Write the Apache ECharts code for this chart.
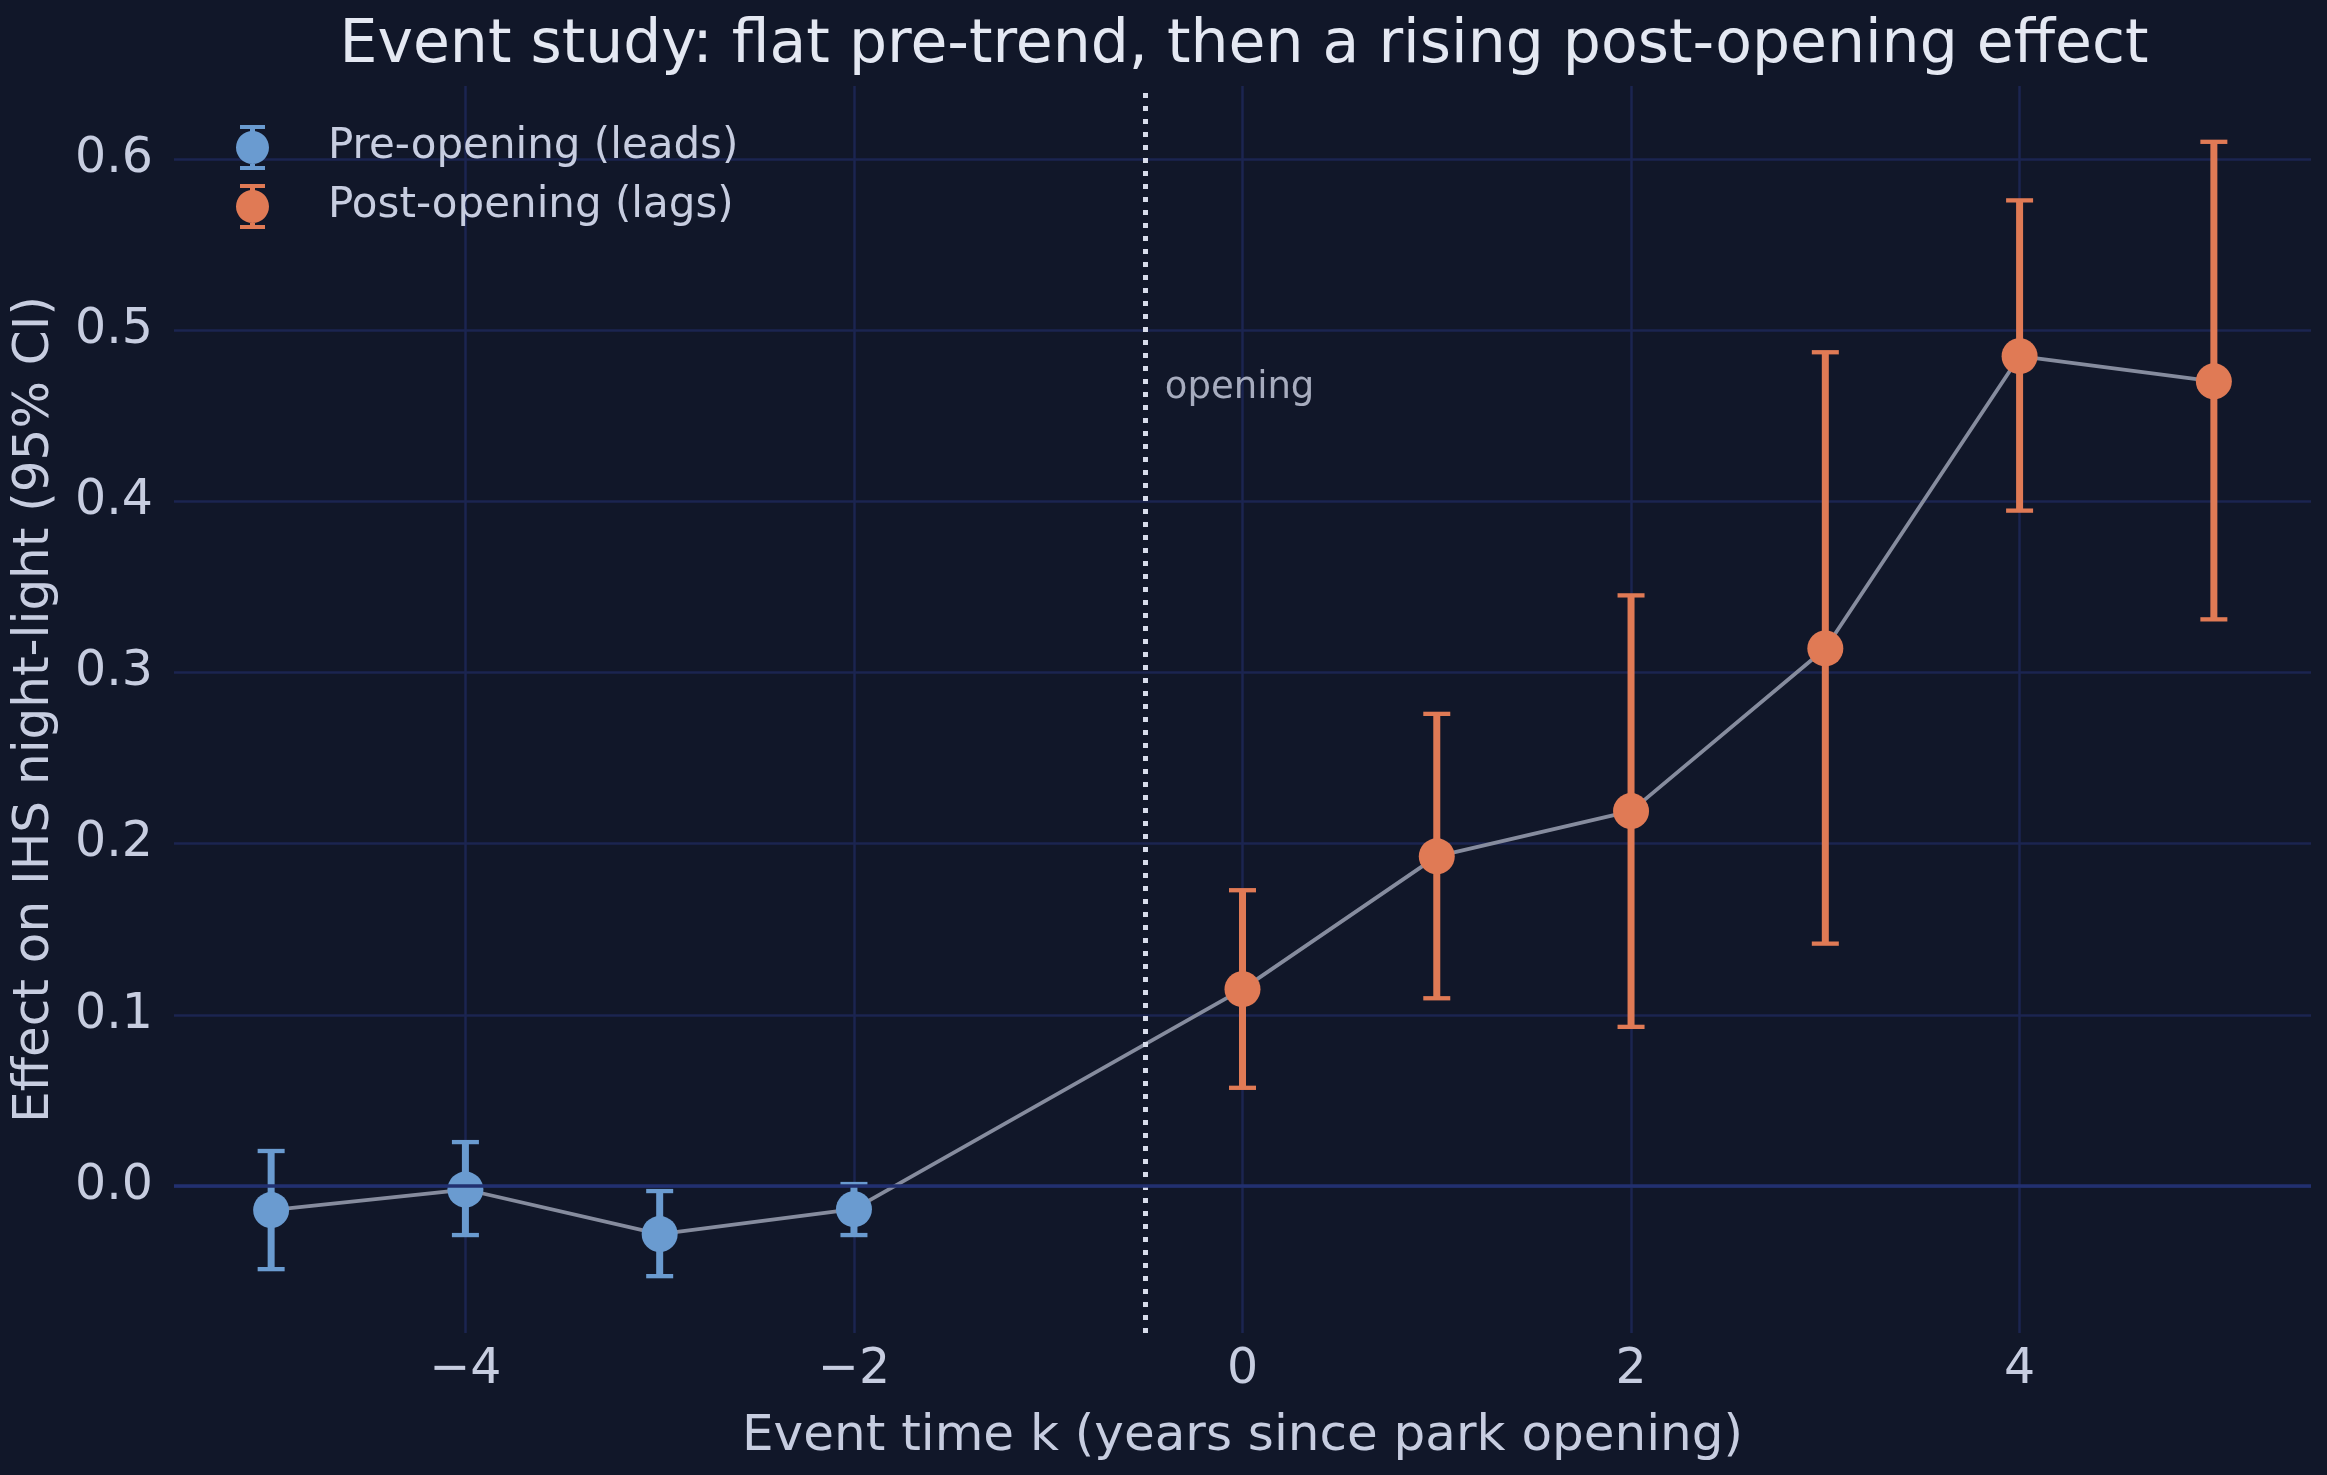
<!DOCTYPE html>
<html>
<head>
<meta charset="utf-8">
<script src="https://cdn.jsdelivr.net/npm/echarts@6/dist/echarts.min.js"></script>
<style>
html,body{margin:0;padding:0;background:#111729;}
#chart{width:2327px;height:1475px;}
</style>
</head>
<body>
<div id="chart"></div>
<script>
// ---- data ----
const preK  = [-5, -4, -3, -2];
const preEst = [-0.014, -0.002, -0.028, -0.0135];
const preLo  = [-0.0485, -0.0286, -0.0526, -0.0286];
const preHi  = [0.0205, 0.0257, -0.0029, 0.0012];

const postK  = [0, 1, 2, 3, 4, 5];
const postEst = [0.115, 0.1926, 0.219, 0.314, 0.4847, 0.470];
const postLo  = [0.0574, 0.1097, 0.093, 0.1416, 0.3945, 0.331];
const postHi  = [0.1728, 0.2758, 0.345, 0.487, 0.5757, 0.6099];

const xTicks = [-4, -2, 0, 2, 4];
const yTicks = [0.0, 0.1, 0.2, 0.3, 0.4, 0.5, 0.6];

const openingX = -0.5;
const seriesNames = ['Pre-opening (leads)', 'Post-opening (lags)'];
const titleText = 'Event study: flat pre-trend, then a rising post-opening effect';
const xName = 'Event time k (years since park opening)';
const yName = 'Effect on IHS night-light (95% CI)';
const annText = 'opening';
const annPos = [-0.40, 0.466];

// ---- style ----
const BLUE = '#6a9bd0', ORANGE = '#e07a55', BG = '#111729';
const TXT = '#c7cde0', GRID = '#1b2550';
const FONT = 'DejaVu Sans';

const allPts = preK.map((k,i)=>[k, preEst[i]]).concat(postK.map((k,i)=>[k, postEst[i]]));
const preBars = preK.map((k,i)=>[k, preLo[i], preHi[i]]);
const postBars = postK.map((k,i)=>[k, postLo[i], postHi[i]]);

function errRender(color){
  return function(params, api){
    const x = api.value(0);
    const lo = api.coord([x, api.value(1)]);
    const hi = api.coord([x, api.value(2)]);
    const cw = 13.5;
    const st = {stroke: color, lineWidth: 7};
    const cst = {stroke: color, lineWidth: 4.3};
    return {type:'group', children:[
      {type:'line', shape:{x1:lo[0], y1:lo[1], x2:hi[0], y2:hi[1]}, style:st},
      {type:'line', shape:{x1:lo[0]-cw, y1:lo[1], x2:lo[0]+cw, y2:lo[1]}, style:cst},
      {type:'line', shape:{x1:hi[0]-cw, y1:hi[1], x2:hi[0]+cw, y2:hi[1]}, style:cst}
    ]};
  };
}

const iconPath = 'path://M4,0H29V4H19V41H29V45H4V41H14V4H4Z M0,22.5A16.5,16.5 0 1,1 33,22.5A16.5,16.5 0 1,1 0,22.5Z';

const chart = echarts.init(document.getElementById('chart'), null, {renderer:'canvas'});
chart.setOption({
  backgroundColor: BG,
  animation: false,
  textStyle: {fontFamily: FONT},
  title: {
    text: titleText, left: 1239, top: 11, textAlign: 'center',
    textStyle: {color: '#e4e8f2', fontSize: 60, fontWeight: 'normal', fontFamily: FONT}
  },
  legend: {
    data: seriesNames, orient: 'vertical', left: 231, top: 120,
    itemWidth: 33, itemHeight: 45, itemGap: 14, icon: iconPath,
    textStyle: {color: TXT, fontSize: 42, fontFamily: FONT, padding: [0,0,0,54]}
  },
  grid: {left: 174, right: 16, top: 86, bottom: 142, containLabel: false},
  xAxis: {
    type: 'value', min: -5.5, max: 5.5,
    name: xName, nameLocation: 'middle', nameGap: 79,
    nameTextStyle: {color: TXT, fontSize: 50, fontFamily: FONT},
    axisLine: {show: false}, axisTick: {show: false, customValues: xTicks},
    axisLabel: {customValues: xTicks, color: TXT, fontSize: 49, fontFamily: FONT, margin: 13,
      formatter: v => v < 0 ? '\u2212' + Math.abs(v) : String(v)},
    splitLine: {show: true, lineStyle: {color: GRID, width: 2.5}}
  },
  yAxis: {
    type: 'value', min: -0.0858, max: 0.6425,
    name: yName, nameLocation: 'middle', nameGap: 114,
    nameTextStyle: {color: TXT, fontSize: 50, fontFamily: FONT},
    axisLine: {show: false}, axisTick: {show: false, customValues: yTicks},
    axisLabel: {customValues: yTicks, color: TXT, fontSize: 49, fontFamily: FONT, margin: 21,
      formatter: v => v.toFixed(1)},
    splitLine: {show: true, lineStyle: {color: GRID, width: 2.5}}
  },
  series: [
    {
      type: 'line', name: 'connect', data: allPts, symbol: 'none', z: 2,
      lineStyle: {color: '#868c9e', width: 3.8, opacity: 1},
      markLine: {
        silent: true, symbol: 'none', label: {show: false},
        lineStyle: {color: '#d8dcea', width: 5, type: [5, 8], opacity: 1},
        data: [{xAxis: openingX}, {yAxis: 0, lineStyle: {color: '#223070', width: 3.5, type: 'solid'}}]
      }
    },
    {type: 'custom', name: 'preErr', data: preBars, renderItem: errRender(BLUE), z: 3},
    {type: 'custom', name: 'postErr', data: postBars, renderItem: errRender(ORANGE), z: 3},
    {type: 'scatter', name: seriesNames[0], data: preK.map((k,i)=>[k, preEst[i]]), symbolSize: 36,
      itemStyle: {color: BLUE, opacity: 1}, z: 4},
    {type: 'scatter', name: seriesNames[1], data: postK.map((k,i)=>[k, postEst[i]]), symbolSize: 36,
      itemStyle: {color: ORANGE, opacity: 1}, z: 4},
    {type: 'scatter', name: 'ann', data: [annPos], symbolSize: 0, silent: true, z: 5,
      label: {show: true, position: 'right', distance: 0, formatter: annText,
        color: '#cdd2e4', fontSize: 37, fontFamily: FONT}}
  ]
});
</script>
</body>
</html>
